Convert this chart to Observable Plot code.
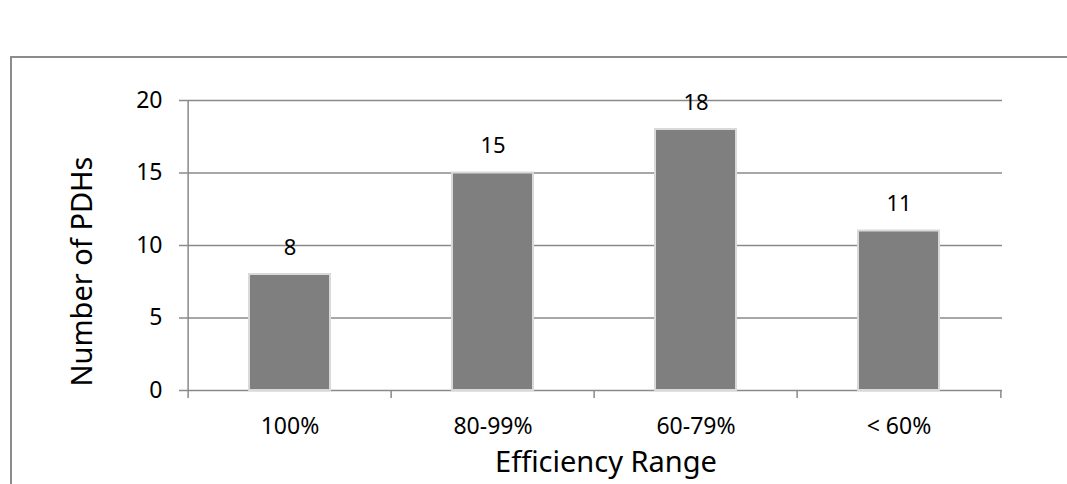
<!DOCTYPE html>
<html>
<head>
<meta charset="utf-8">
<script src="https://cdn.jsdelivr.net/npm/d3@7"></script>
<script src="https://cdn.jsdelivr.net/npm/@observablehq/plot@0.6"></script>
<style>
  html, body { margin: 0; padding: 0; background: #fff; }
  #wrap { position: relative; width: 1067px; height: 484px; overflow: hidden; }
  #frame {
    position: absolute; left: 10px; top: 56px; width: 1100px; height: 500px;
    border-left: 2px solid #8c8c8c; border-top: 2px solid #8c8c8c;
  }
  #chart { position: absolute; left: 0; top: 0; }
</style>
</head>
<body>
<div id="wrap"><div id="frame"></div><div id="chart"></div></div>
<script>
// Efficiency ranges and the number of PDHs falling in each
const categories = ["100%", "80-99%", "60-79%", "< 60%"];
const counts = [8, 15, 18, 11];
const yTicks = [0, 5, 10, 15, 20];

const data = categories.map((cat, i) => ({cat, n: counts[i]}));

const width = 1067, height = 484;
const marginLeft = 187, marginRight = 65, marginTop = 100, marginBottom = 94;
const step = (width - marginLeft - marginRight) / categories.length;
const lineColor = "#8a8a8a";
const font = "'Noto Sans', sans-serif";

const chart = Plot.plot({
  width, height, marginLeft, marginRight, marginTop, marginBottom,
  style: {fontFamily: font, fontSize: "22px", color: "#000", background: "transparent"},
  x: {domain: categories, paddingInner: 0.6, paddingOuter: 0.3},
  y: {domain: [0, 20]},
  marks: [
    // horizontal gridlines, with a short stub left of the axis
    Plot.ruleY(yTicks, {stroke: lineColor, strokeWidth: 1.5, insetLeft: -8}),
    // vertical axis line plus category separator ticks
    Plot.ruleX(categories, {x: d => d, dx: -step / 2, y1: d => d === categories[0] ? 20 : 0, y2: 0, insetBottom: -8, stroke: lineColor, strokeWidth: 1.5}),
    Plot.ruleX(categories.slice(-1), {x: d => d, dx: step / 2, y1: 0, y2: 0, insetBottom: -8, stroke: lineColor, strokeWidth: 1.5}),
    Plot.axisX({tickSize: 0, tickPadding: 27, fontSize: 23, label: null, fill: "#000"}),
    Plot.axisY({ticks: yTicks, tickSize: 0, tickPadding: 25, fontSize: 23, label: null, fill: "#000"}),
    Plot.barY(data, {x: "cat", y: "n", fill: "#7f7f7f", stroke: "#d9d9d9", strokeWidth: 2}),
    Plot.text(data, {x: "cat", y: "n", text: d => String(d.n), dy: -27, fontSize: 22, fill: "#000"}),
    Plot.text(["Efficiency Range"], {frameAnchor: "bottom", textAnchor: "middle", lineAnchor: "middle", dx: 11, dy: 72, fontSize: 29, fill: "#000"}),
    Plot.text(["Number of PDHs"], {frameAnchor: "left", textAnchor: "middle", lineAnchor: "middle", dx: -105, dy: 26, rotate: -90, fontSize: 29, fill: "#000"})
  ]
});

document.getElementById("chart").appendChild(chart);
</script>
</body>
</html>
